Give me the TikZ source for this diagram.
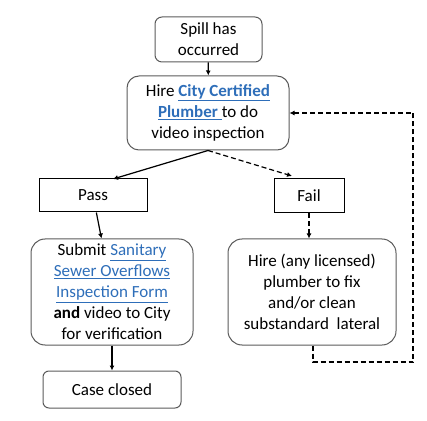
\documentclass[tikz,border=0pt]{standalone}
\usepackage{fontspec}
\setmainfont{Carlito}
\usetikzlibrary{arrows.meta}
\definecolor{linkblue}{RGB}{46,110,185}
\definecolor{boxgray}{RGB}{90,90,90}
\newcommand\lnk[1]{\textcolor{linkblue}{\underline{#1}}}
\begin{document}
\begin{tikzpicture}[x=1pt,y=1pt,
  txt/.style={align=center, inner sep=0pt, font=\fontsize{17}{21}\selectfont},
  rbox/.style={txt, draw=boxgray, line width=1pt, rounded corners=#1},
  rbox/.default=10pt,
  sbox/.style={txt, draw=black, line width=1pt},
  arr/.style={-{Latex[length=5pt,width=5pt]}, line width=1.2pt},
  darr/.style={arr, dash pattern=on 5pt off 3pt}]
\useasboundingbox (0,0) rectangle (427,420);
\node[rbox=7pt, minimum width=107pt, minimum height=45pt] (spill) at (208.5,380.5) {Spill has\\occurred};
\node[rbox=12pt, minimum width=162pt, minimum height=74pt] (hire) at (208,307) {Hire \textbf{\lnk{City Certified}}\\\textbf{\lnk{Plumber\ }}to do\\video inspection};
\node[sbox, minimum width=108pt, minimum height=33pt] (pass) at (93,224.5) {Pass};
\node[sbox, minimum width=70pt, minimum height=34pt] (fail) at (309,224) {Fail};
\node[rbox=14pt, minimum width=162pt, minimum height=106pt] (submit) at (112,128) {Submit \lnk{Sanitary}\\\lnk{Sewer Overflows}\\\lnk{Inspection Form}\\\textbf{and} video to City\\for verification};
\node[rbox=14pt, minimum width=168pt, minimum height=106pt] (fix) at (312,128) {Hire (any licensed)\\plumber to fix\\and/or clean\\substandard\ \ lateral};
\node[rbox=6pt, minimum width=138pt, minimum height=37pt] (closed) at (112,30.5) {Case closed};
\coordinate (c1) at (313,58);
\coordinate (c2) at (413,58);
\coordinate (c3) at (413,307);
\coordinate (passtip) at (113,241);
\coordinate (failtip) at (292,244);
\draw[arr] (spill) -- (hire);
\draw[arr] (hire.south) -- (passtip);
\draw[darr] (hire.south) -- (failtip);
\draw[arr] (pass) -- (submit);
\draw[darr] (fail) -- (fail |- fix.north);
\draw[arr] (submit) -- (closed);
\draw[darr] (fix.south -| c1) -- (c1) -- (c2) -- (c3) -- (hire.east);
\end{tikzpicture}
\end{document}
